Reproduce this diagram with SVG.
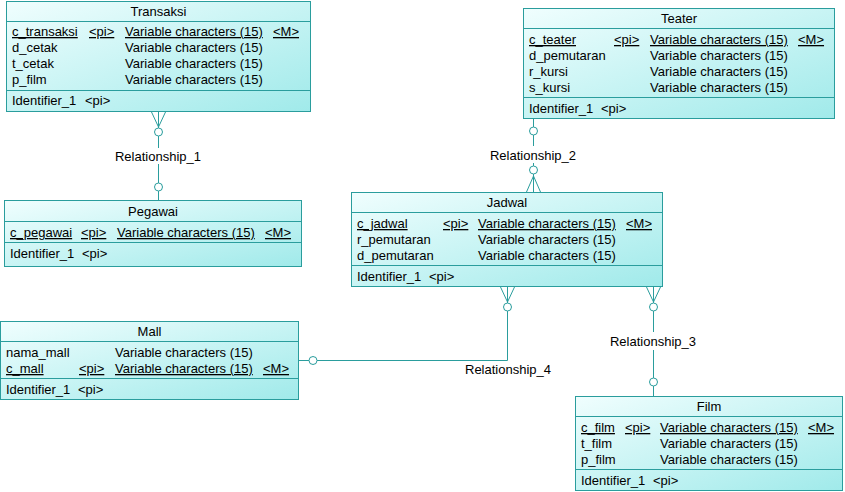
<svg xmlns="http://www.w3.org/2000/svg" width="845" height="492" viewBox="0 0 845 492">
<defs>
<linearGradient id="g" x1="0" y1="0" x2="1" y2="1">
<stop offset="0" stop-color="#f0fefe"/>
<stop offset="1" stop-color="#a0eaea"/>
</linearGradient>
<style>
.box{fill:url(#g);stroke:#2a9d9d;stroke-width:1}
.div{stroke:#2a9d9d;stroke-width:1}
.ln{stroke:#2a9d9d;stroke-width:1;fill:none}
.cir{stroke:#2a9d9d;stroke-width:1;fill:#fff}
text{font-family:"Liberation Sans",Arial,sans-serif;font-size:13px;fill:#000}
.t{text-anchor:middle}
.u{text-decoration:underline}
</style>
</defs>
<rect width="845" height="492" fill="#fff"/>

<g id="connectors">
<!-- Relationship_1 -->
<line class="ln" x1="158.5" y1="112" x2="158.5" y2="128"/>
<polyline class="ln" points="151.5,112 158.5,127 165.5,112"/>
<circle class="cir" cx="158.5" cy="132" r="4"/>
<line class="ln" x1="158.5" y1="136" x2="158.5" y2="148"/>
<line class="ln" x1="158.5" y1="164" x2="158.5" y2="183"/>
<circle class="cir" cx="158.5" cy="187" r="4"/>
<line class="ln" x1="158.5" y1="191" x2="158.5" y2="200"/>
<text class="t" x="158" y="161">Relationship_1</text>
<!-- Relationship_2 -->
<line class="ln" x1="533.5" y1="119" x2="533.5" y2="127"/>
<circle class="cir" cx="533.5" cy="131" r="4"/>
<line class="ln" x1="533.5" y1="135" x2="533.5" y2="146"/>
<line class="ln" x1="533.5" y1="163" x2="533.5" y2="166"/>
<circle class="cir" cx="533.5" cy="170" r="4"/>
<line class="ln" x1="533.5" y1="174" x2="533.5" y2="192"/>
<polyline class="ln" points="526.5,192 533.5,176 540.5,192"/>
<text class="t" x="533" y="160">Relationship_2</text>
<!-- Relationship_3 -->
<line class="ln" x1="653.5" y1="287" x2="653.5" y2="303"/>
<polyline class="ln" points="646.5,287 653.5,302 660.5,287"/>
<circle class="cir" cx="653.5" cy="307" r="4"/>
<line class="ln" x1="653.5" y1="311" x2="653.5" y2="332"/>
<line class="ln" x1="653.5" y1="350" x2="653.5" y2="378"/>
<circle class="cir" cx="653.5" cy="382" r="4"/>
<line class="ln" x1="653.5" y1="386" x2="653.5" y2="396"/>
<text class="t" x="653" y="346">Relationship_3</text>
<!-- Relationship_4 -->
<line class="ln" x1="507.5" y1="287" x2="507.5" y2="303"/>
<polyline class="ln" points="500.5,287 507.5,302 514.5,287"/>
<circle class="cir" cx="507.5" cy="307" r="4"/>
<polyline class="ln" points="507.5,311 507.5,360.5 317,360.5"/>
<circle class="cir" cx="313" cy="360.5" r="4"/>
<line class="ln" x1="299" y1="360.5" x2="309" y2="360.5"/>
<text x="465" y="374">Relationship_4</text>
</g>

<g id="Transaksi">
<rect class="box" x="6.5" y="1.5" width="304" height="110"/>
<line class="div" x1="6.5" y1="21.5" x2="310.5" y2="21.5"/>
<line class="div" x1="6.5" y1="90.5" x2="310.5" y2="90.5"/>
<text class="t" x="158.5" y="16">Transaksi</text>
<text class="u" x="12" y="36">c_transaksi</text><text class="u" x="89" y="36">&lt;pi&gt;</text><text class="u" x="125" y="36">Variable characters (15)</text><text class="u" x="273" y="36">&lt;M&gt;</text>
<text x="12" y="52">d_cetak</text><text x="125" y="52">Variable characters (15)</text>
<text x="12" y="68">t_cetak</text><text x="125" y="68">Variable characters (15)</text>
<text x="12" y="84">p_film</text><text x="125" y="84">Variable characters (15)</text>
<text x="12" y="105">Identifier_1</text><text x="85" y="105">&lt;pi&gt;</text>
</g>

<g id="Teater">
<rect class="box" x="523.5" y="8.5" width="311" height="110"/>
<line class="div" x1="523.5" y1="28.5" x2="834.5" y2="28.5"/>
<line class="div" x1="523.5" y1="97.5" x2="834.5" y2="97.5"/>
<text class="t" x="679" y="23">Teater</text>
<text class="u" x="529" y="44">c_teater</text><text class="u" x="614" y="44">&lt;pi&gt;</text><text class="u" x="650" y="44">Variable characters (15)</text><text class="u" x="798" y="44">&lt;M&gt;</text>
<text x="529" y="60">d_pemutaran</text><text x="650" y="60">Variable characters (15)</text>
<text x="529" y="76">r_kursi</text><text x="650" y="76">Variable characters (15)</text>
<text x="529" y="92">s_kursi</text><text x="650" y="92">Variable characters (15)</text>
<text x="529" y="113">Identifier_1</text><text x="601" y="113">&lt;pi&gt;</text>
</g>

<g id="Pegawai">
<rect class="box" x="4.5" y="200.5" width="297" height="66"/>
<line class="div" x1="4.5" y1="221.5" x2="301.5" y2="221.5"/>
<line class="div" x1="4.5" y1="242.5" x2="301.5" y2="242.5"/>
<text class="t" x="153" y="216">Pegawai</text>
<text class="u" x="10" y="237">c_pegawai</text><text class="u" x="81" y="237">&lt;pi&gt;</text><text class="u" x="117" y="237">Variable characters (15)</text><text class="u" x="265" y="237">&lt;M&gt;</text>
<text x="10" y="258">Identifier_1</text><text x="82" y="258">&lt;pi&gt;</text>
</g>

<g id="Jadwal">
<rect class="box" x="351.5" y="192.5" width="311" height="94"/>
<line class="div" x1="351.5" y1="212.5" x2="662.5" y2="212.5"/>
<line class="div" x1="351.5" y1="265.5" x2="662.5" y2="265.5"/>
<text class="t" x="507" y="207">Jadwal</text>
<text class="u" x="357" y="228">c_jadwal</text><text class="u" x="443" y="228">&lt;pi&gt;</text><text class="u" x="478" y="228">Variable characters (15)</text><text class="u" x="626" y="228">&lt;M&gt;</text>
<text x="357" y="244">r_pemutaran</text><text x="478" y="244">Variable characters (15)</text>
<text x="357" y="260">d_pemutaran</text><text x="478" y="260">Variable characters (15)</text>
<text x="357" y="281">Identifier_1</text><text x="429" y="281">&lt;pi&gt;</text>
</g>

<g id="Mall">
<rect class="box" x="0.5" y="321.5" width="298" height="78"/>
<line class="div" x1="0.5" y1="341.5" x2="298.5" y2="341.5"/>
<line class="div" x1="0.5" y1="378.5" x2="298.5" y2="378.5"/>
<text class="t" x="149.5" y="336">Mall</text>
<text x="6" y="357">nama_mall</text><text x="115" y="357">Variable characters (15)</text>
<text class="u" x="6" y="373">c_mall</text><text class="u" x="79" y="373">&lt;pi&gt;</text><text class="u" x="115" y="373">Variable characters (15)</text><text class="u" x="263" y="373">&lt;M&gt;</text>
<text x="6" y="394">Identifier_1</text><text x="78" y="394">&lt;pi&gt;</text>
</g>

<g id="Film">
<rect class="box" x="575.5" y="396.5" width="267" height="94"/>
<line class="div" x1="575.5" y1="416.5" x2="842.5" y2="416.5"/>
<line class="div" x1="575.5" y1="469.5" x2="842.5" y2="469.5"/>
<text class="t" x="709" y="411">Film</text>
<text class="u" x="581" y="432">c_film</text><text class="u" x="625" y="432">&lt;pi&gt;</text><text class="u" x="660" y="432">Variable characters (15)</text><text class="u" x="808" y="432">&lt;M&gt;</text>
<text x="581" y="448">t_film</text><text x="660" y="448">Variable characters (15)</text>
<text x="581" y="464">p_film</text><text x="660" y="464">Variable characters (15)</text>
<text x="581" y="485">Identifier_1</text><text x="653" y="485">&lt;pi&gt;</text>
</g>
</svg>
